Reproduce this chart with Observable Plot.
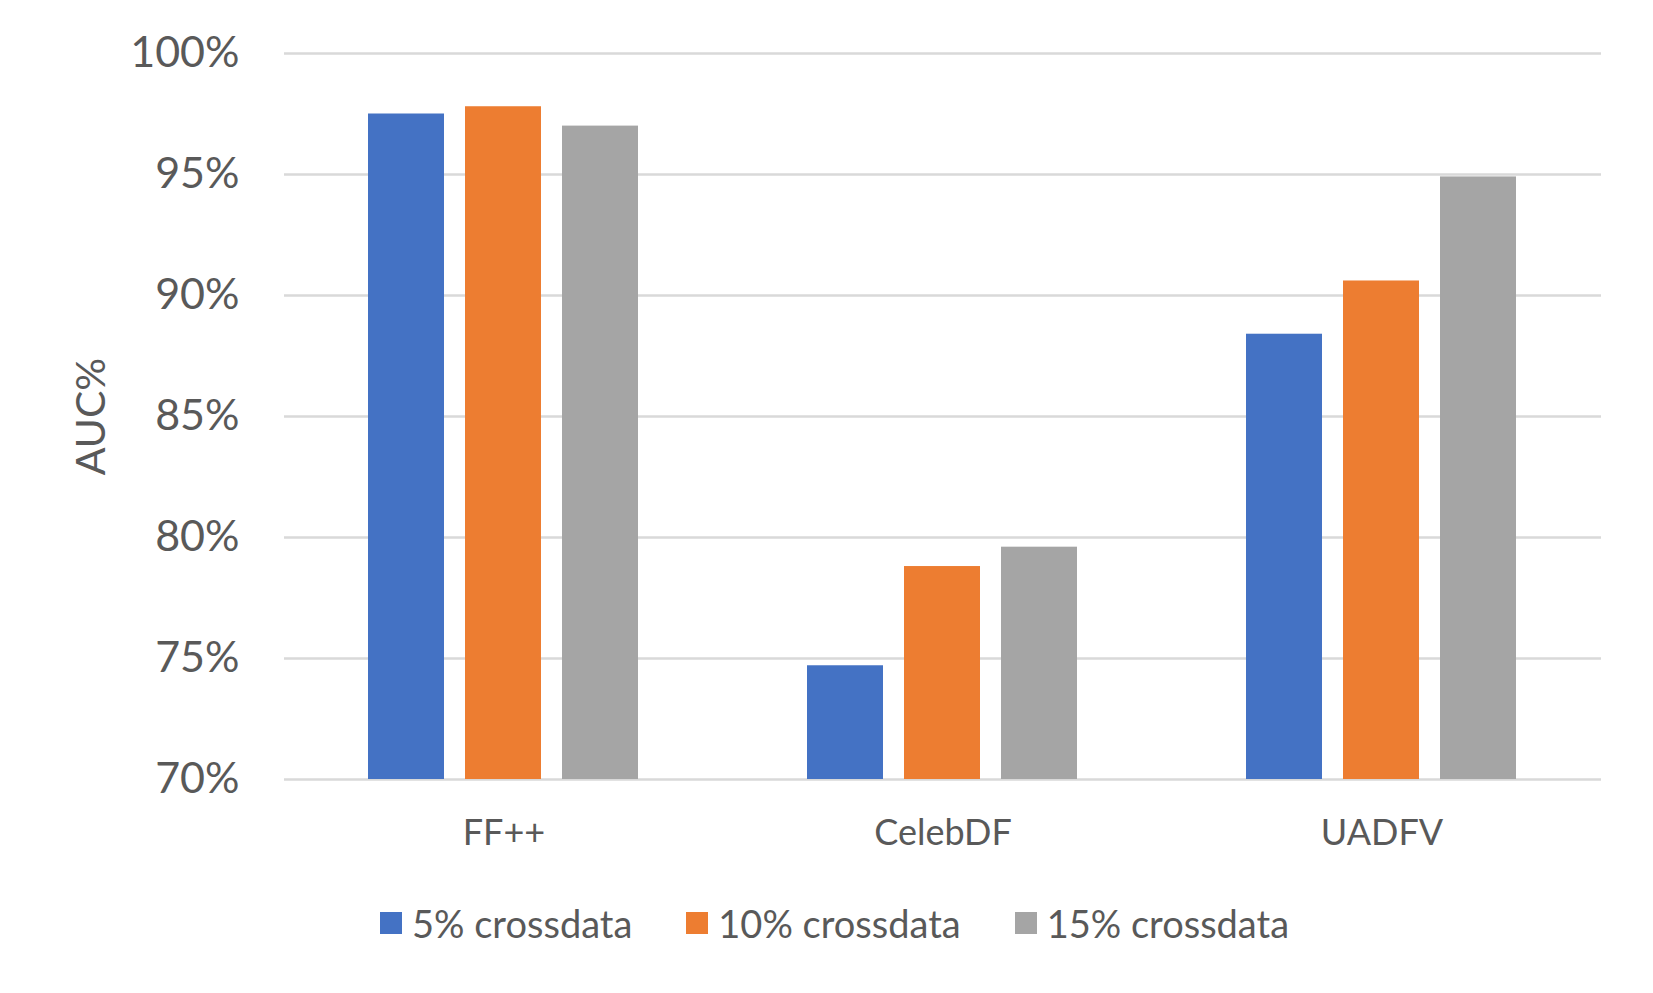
<!DOCTYPE html>
<html>
<head>
<meta charset="utf-8">
<script src="https://cdn.jsdelivr.net/npm/d3@7"></script>
<script src="https://cdn.jsdelivr.net/npm/@observablehq/plot@0.6"></script>
<style>
  html, body { margin: 0; padding: 0; background: #fff; }
  #wrap { position: relative; width: 1653px; height: 993px; font-family: Lato, "Open Sans", sans-serif; color: #595959; }
  #legend { position: absolute; left: 380px; top: 900px; display: flex; font-size: 38px; line-height: 46px; }
  .item { display: flex; align-items: center; margin-right: 54px; }
  .sw { width: 22px; height: 22px; margin-right: 10px; }
</style>
</head>
<body>
<div id="wrap"><div id="chart"></div><div id="legend"></div></div>
<script>
const categories = ["FF++", "CelebDF", "UADFV"];
const series = ["5% crossdata", "10% crossdata", "15% crossdata"];
const colors = ["#4472C4", "#ED7D31", "#A5A5A5"];
const values5 = [97.5, 74.7, 88.4];
const values10 = [97.8, 78.8, 90.6];
const values15 = [97.0, 79.6, 94.9];
const yTicks = [70, 75, 80, 85, 90, 95, 100];

const seriesValues = [values5, values10, values15];
const data = [];
categories.forEach((c, i) => {
  series.forEach((s, j) => data.push({category: c, series: s, value: seriesValues[j][i]}));
});

const chart = Plot.plot({
  width: 1653,
  height: 880,
  marginLeft: 283,
  marginRight: 52,
  marginTop: 53,
  marginBottom: 101,
  style: {fontFamily: "Lato, 'Open Sans', sans-serif", color: "#595959", background: "white", overflow: "visible"},
  fx: {domain: categories, padding: 0},
  x: {domain: series, paddingInner: 0.215, paddingOuter: 0.85, axis: null},
  y: {domain: [70, 100]},
  color: {domain: series, range: colors},
  marks: [
    Plot.gridY(yTicks, {stroke: "#d9d9d9", strokeOpacity: 1, strokeWidth: 2.5}),
    Plot.barY(data, {fx: "category", x: "series", y1: 70, y2: "value", fill: "series"}),
    Plot.axisY(yTicks, {tickSize: 0, tickPadding: 45, fontSize: 43, tickFormat: d => d + "%", label: null}),
    Plot.axisY([], {label: "AUC%", labelAnchor: "center", labelArrow: "none", labelOffset: 209, fontSize: 41, tickSize: 0}),
    Plot.axisFx({anchor: "bottom", tickSize: 0, tickPadding: 40, fontSize: 36, label: null})
  ]
});
document.getElementById("chart").appendChild(chart);

const legend = document.getElementById("legend");
series.forEach((s, j) => {
  const item = document.createElement("div");
  item.className = "item";
  const sw = document.createElement("span");
  sw.className = "sw";
  sw.style.background = colors[j];
  const t = document.createElement("span");
  t.textContent = s;
  item.appendChild(sw);
  item.appendChild(t);
  legend.appendChild(item);
});
</script>
</body>
</html>
